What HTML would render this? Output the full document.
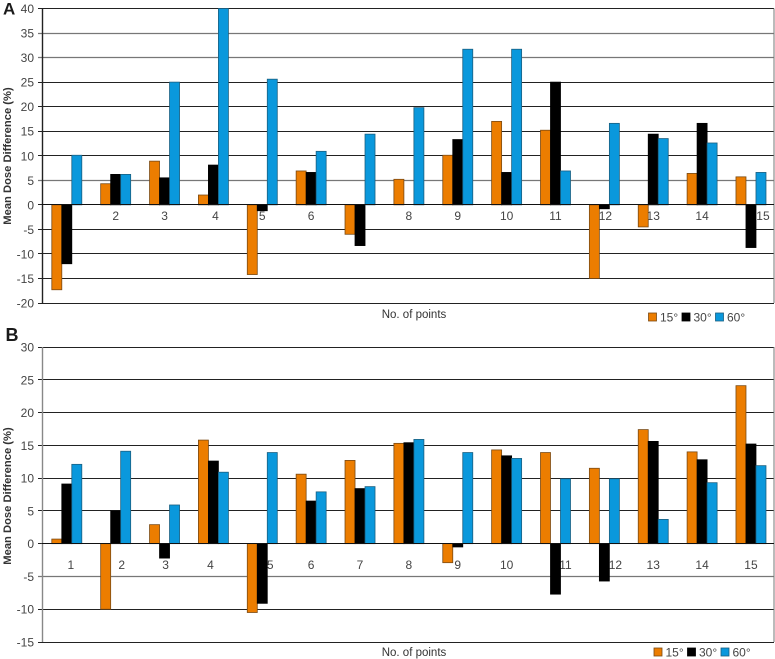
<!DOCTYPE html>
<html>
<head>
<meta charset="utf-8">
<style>
html,body{margin:0;padding:0;background:#fff;}
svg{display:block;font-family:"Liberation Sans","DejaVu Sans",sans-serif;}
</style>
</head>
<body>
<svg id="figure" width="775" height="659" viewBox="0 0 775 659" xmlns="http://www.w3.org/2000/svg"></svg>
<script>
const categories = ['1','2','3','4','5','6','7','8','9','10','11','12','13','14','15'];
const seriesNames = ['15°','30°','60°'];
const ticksA = [40,35,30,25,20,15,10,5,0,-5,-10,-15,-20];
const ticksB = [30,25,20,15,10,5,0,-5,-10,-15];
const a15 = [-17.3,4.3,8.9,2,-14.2,6.9,-6,5.2,10.1,17,15.2,-15,-4.5,6.4,5.7];
const a30 = [-12,6.2,5.5,8.1,-1.2,6.6,-8.3,0,13.3,6.6,25,-0.8,14.4,16.6,-8.7];
const a60 = [10.1,6.2,25,40,25.6,10.9,14.4,19.8,31.7,31.7,6.9,16.6,13.5,12.6,6.6];
const b15 = [0.7,-10,2.9,15.8,-10.5,10.6,12.7,15.3,-2.9,14.3,13.9,11.5,17.4,14,24.1];
const b30 = [9.1,5,-2.2,12.6,-9.1,6.5,8.4,15.4,-0.5,13.4,-7.7,-5.7,15.6,12.8,15.2];
const b60 = [12.1,14.1,5.9,10.9,13.9,7.9,8.7,15.9,13.9,13,9.9,9.9,3.7,9.3,11.9];

const svg = document.getElementById('figure');
const NS = 'http://www.w3.org/2000/svg';
const fills = ['#ec7d00','#000000','#0a98dc'];
const strokes = ['#7a4a14','#000000','#1a5f80'];

function add(parent, tag, attrs, text) {
  const el = document.createElementNS(NS, tag);
  for (const k in attrs) el.setAttribute(k, attrs[k]);
  if (text !== undefined) el.textContent = text;
  parent.appendChild(el);
  return el;
}

function drawChart(cfg) {
  const left = 42, right = 774, top = cfg.top, bottom = cfg.bottom;
  const yMax = cfg.ticks[0], yMin = cfg.ticks[cfg.ticks.length - 1];
  const y = v => top + (yMax - v) * (bottom - top) / (yMax - yMin);
  const crisp = v => Math.floor(v) + 0.5;
  const xCenter = i => 66.8 + i * 48.87;
  const barW = 10;

  const g = add(svg, 'g', {});
  
  

  cfg.ticks.forEach(t => {
    const soft = cfg.softTicks.includes(t);
    const ly = crisp(y(t));
    const line = add(g, 'line', {x1: left - 4, x2: right, y1: ly, y2: ly, stroke: soft ? '#777' : '#222', 'stroke-width': soft ? 1.3 : 1});
    
    
    const label = add(g, 'text', {x: 34, y: y(t) + 4.5, 'text-anchor': 'end', 'font-size': 12, fill: '#444'}, String(t));
    
    
  });

  const yAxis = add(g, 'line', {x1: left + 0.5, x2: left + 0.5, y1: top, y2: bottom, stroke: cfg.axisColor, 'stroke-width': 1.4});
  
  
  const rightEdge = add(g, 'line', {x1: right, x2: right, y1: top, y2: bottom, stroke: '#777', 'stroke-width': 1});
  
  

  categories.forEach((c, i) => {
    const lx = xCenter(i) + (cfg.labelShift[c] || 0);
    const label = add(g, 'text', {x: lx, y: cfg.labelY, 'text-anchor': 'middle', 'font-size': 12, fill: '#444'}, c);
    
    
  });

  cfg.series.forEach((vals, s) => {
    vals.forEach((v, i) => {
      if (v === 0) return;
      const bx = xCenter(i) - 15 + s * barW;
      const y0 = y(0), yv = y(v);
      const bar = add(g, 'rect', {
        x: bx, y: Math.min(y0, yv), width: barW, height: Math.abs(yv - y0),
        fill: fills[s], stroke: strokes[s], 'stroke-width': 0.8
      });
      
      
    });
  });

  const zy = crisp(y(0));
  const zero = add(g, 'line', {x1: left, x2: right, y1: zy, y2: zy, stroke: '#111', 'stroke-width': 1});
  
  

  const panel = add(g, 'text', {x: cfg.panelX, y: cfg.panelY, 'font-size': cfg.panelSize, 'font-weight': 'bold', fill: '#1a1a1a'}, cfg.panel);
  
  

  const yTitle = add(g, 'text', {x: 0, y: 0, transform: 'translate(11,' + cfg.titleY + ') rotate(-90)', 'text-anchor': 'middle', 'font-size': 11.2, 'font-weight': 'bold', fill: '#333'}, 'Mean Dose Difference (%)');
  
  

  const xTitle = add(g, 'text', {x: 414, y: cfg.xTitleY, 'text-anchor': 'middle', 'font-size': 11.5, fill: '#333'}, 'No. of points');
  
  

  seriesNames.forEach((n, s) => {
    const lx = cfg.legendX + s * 33.5;
    const sw = add(g, 'rect', {x: lx, y: cfg.legendY, width: 8, height: 8, fill: fills[s], stroke: strokes[s], 'stroke-width': 0.8});
    
    
    const tx = add(g, 'text', {x: lx + 11.5, y: cfg.legendY + 8.5, 'font-size': 12, fill: '#444'}, n);
    
    
  });
}

drawChart({
  name: 'chart-a', panel: 'A', panelX: 3, panelY: 14.5, panelSize: 17,
  top: 8.5, bottom: 303, ticks: ticksA, softTicks: [35, 30, 5], axisColor: '#222',
  series: [a15, a30, a60],
  labelY: 220, labelShift: {'4': 2, '15': 12, '12': 1},
  titleY: 156, xTitleY: 318, legendX: 648.5, legendY: 313
});

drawChart({
  name: 'chart-b', panel: 'B', panelX: 5.5, panelY: 341, panelSize: 18,
  top: 347, bottom: 642, ticks: ticksB, softTicks: [-5], axisColor: '#888',
  series: [b15, b30, b60],
  labelY: 569, labelShift: {'1': 4, '2': 6, '3': 1, '4': -3, '5': 8, '11': 10, '12': 11},
  titleY: 496, xTitleY: 656, legendX: 654, legendY: 648
});
</script>
</body>
</html>
